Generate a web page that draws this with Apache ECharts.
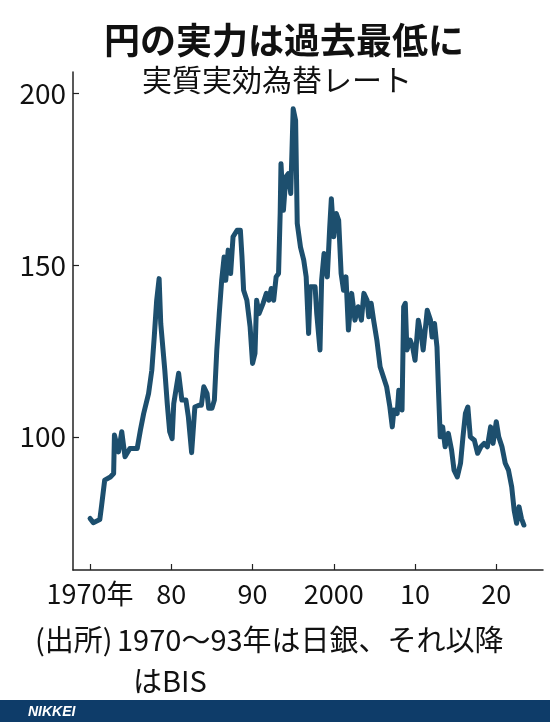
<!DOCTYPE html>
<html>
<head>
<meta charset="utf-8">
<script src="https://cdn.jsdelivr.net/npm/echarts@6/dist/echarts.min.js"></script>
<style>
  html, body { margin: 0; padding: 0; background: #fff; }
  #chart { width: 550px; height: 722px; }
</style>
</head>
<body>
<div id="chart"></div>
<script>
const years = [
  1970.0, 1970.4, 1971.2, 1971.4, 1971.8, 1972.5, 1972.9, 1973.0, 1973.5, 1973.9,
  1974.3, 1974.9, 1975.8, 1976.2, 1976.6, 1977.2, 1977.6, 1977.9, 1978.2, 1978.5,
  1978.7, 1979.2, 1979.5, 1979.8, 1980.1, 1980.3, 1980.9, 1981.3, 1981.8, 1982.1,
  1982.5, 1982.9, 1983.4, 1983.7, 1984.0, 1984.4, 1984.6, 1985.0, 1985.3, 1985.6,
  1985.9, 1986.2, 1986.5, 1986.7, 1987.0, 1987.3, 1987.6, 1988.1, 1988.5, 1988.7,
  1988.9, 1989.3, 1989.7, 1990.0, 1990.3, 1990.5, 1990.8, 1991.3, 1991.7, 1992.0,
  1992.3, 1992.6, 1992.9, 1993.2, 1993.4, 1993.5, 1993.8, 1994.1, 1994.4, 1994.7,
  1995.0, 1995.3, 1995.5, 1995.9, 1996.3, 1996.6, 1996.9, 1997.1, 1997.7, 1997.9,
  1998.3, 1998.5, 1998.8, 1999.2, 1999.5, 1999.7, 2000.0, 2000.3, 2000.6, 2000.9,
  2001.2, 2001.5, 2001.8, 2002.2, 2002.6, 2003.0, 2003.4, 2003.7, 2004.1, 2004.3,
  2004.6, 2004.9, 2005.3, 2005.7, 2006.1, 2006.5, 2006.9, 2007.2, 2007.4, 2007.8,
  2008.0, 2008.4, 2008.6, 2008.8, 2009.0, 2009.4, 2009.7, 2010.0, 2010.4, 2010.8,
  2011.0, 2011.5, 2011.9, 2012.1, 2012.4, 2012.7, 2012.9, 2013.1, 2013.4, 2013.7,
  2014.1, 2014.5, 2014.8, 2015.2, 2015.6, 2015.9, 2016.2, 2016.5, 2016.8, 2017.3,
  2017.7, 2018.1, 2018.5, 2018.9, 2019.3, 2019.6, 2020.0, 2020.3, 2020.7, 2021.1,
  2021.5, 2021.9, 2022.2, 2022.5, 2022.8, 2023.1, 2023.4
];
const rate = [
  76.2, 75.0, 75.9, 79.6, 87.4, 88.3, 89.3, 100.5, 95.6, 101.5,
  94.2, 96.6, 96.6, 102.0, 106.8, 112.6, 119.4, 129.1, 139.8, 146.1,
  133.0, 119.4, 109.7, 101.5, 99.5, 109.7, 118.5, 110.7, 110.7, 105.8,
  95.4, 108.7, 109.2, 109.2, 114.6, 112.6, 108.3, 108.3, 110.7, 125.3,
  135.9, 145.6, 152.4, 145.6, 154.4, 147.6, 158.3, 160.2, 160.2, 152.4,
  142.7, 139.8, 132.0, 121.4, 124.3, 139.8, 135.9, 138.9, 141.8, 139.8,
  143.2, 139.8, 146.6, 147.6, 165.1, 179.6, 166.0, 175.7, 176.7, 170.9,
  195.6, 192.2, 162.2, 155.3, 151.5, 146.6, 130.1, 143.7, 143.7, 135.9,
  125.3, 145.6, 153.4, 146.6, 161.2, 169.4, 158.3, 165.1, 163.1, 147.6,
  142.7, 146.6, 131.1, 141.8, 134.0, 137.9, 134.0, 141.8, 139.8, 135.0,
  138.9, 134.0, 128.2, 120.4, 117.5, 114.6, 108.7, 102.9, 107.8, 106.8,
  113.6, 107.8, 137.9, 138.9, 125.3, 128.2, 126.2, 122.3, 134.0, 129.1,
  125.3, 136.9, 134.0, 129.1, 133.0, 126.2, 112.6, 100.0, 102.9, 97.1,
  101.0, 96.1, 90.3, 88.3, 92.3, 100.0, 106.8, 108.7, 100.0, 99.0,
  95.2, 97.1, 98.1, 97.1, 102.9, 98.1, 104.4, 100.0, 97.1, 92.3,
  90.3, 85.4, 78.6, 74.8, 79.6, 76.2, 74.3
];
const xTicks = [1970, 1980, 1990, 2000, 2010, 2020];
const xTickLabels = ['1970年', '80', '90', '2000', '10', '20'];
const yTicks = [100, 150, 200];

const numFont = '"Liberation Sans Narrow", "Noto Sans CJK JP", sans-serif';
const jpFont = '"Noto Sans CJK JP", sans-serif';

var chart = echarts.init(document.getElementById('chart'));

let option = {
  backgroundColor: '#fff',
  animation: false,
  grid: { left: 73, right: 7, top: 72, bottom: 152 },
  xAxis: {
    type: 'value',
    min: 1967.9,
    max: 2025.75,
    splitLine: { show: false },
    axisLine: { lineStyle: { color: '#222', width: 1.5 } },
    axisTick: {
      inside: true,
      length: 6,
      customValues: xTicks,
      lineStyle: { color: '#222', width: 1.2 }
    },
    axisLabel: {
      customValues: xTicks,
      formatter: (v) => xTickLabels[xTicks.indexOf(v)],
      fontFamily: numFont,
      fontSize: 27,
      color: '#111',
      margin: 10
    }
  },
  yAxis: {
    type: 'value',
    min: 61.2,
    max: 206.3,
    splitLine: { show: false },
    axisLine: { show: true, lineStyle: { color: '#222', width: 1.5 } },
    axisTick: {
      inside: true,
      length: 6,
      customValues: yTicks,
      lineStyle: { color: '#222', width: 1.2 }
    },
    axisLabel: {
      customValues: yTicks,
      fontFamily: numFont,
      fontSize: 28,
      color: '#111',
      margin: 7
    }
  },
  series: [
    {
      type: 'line',
      data: years.map((y, i) => [y, rate[i]]),
      showSymbol: false,
      lineStyle: { color: '#1d4f6e', width: 5, join: 'round', cap: 'round' }
    }
  ],
  graphic: [
    {
      type: 'text',
      x: 284, y: 40,
      style: {
        text: '円の実力は過去最低に',
        font: 'bold 36px ' + jpFont,
        fill: '#111',
        textAlign: 'center',
        textVerticalAlign: 'middle'
      }
    },
    {
      type: 'text',
      x: 277, y: 80,
      style: {
        text: '実質実効為替レート',
        font: '30px ' + jpFont,
        fill: '#111',
        textAlign: 'center',
        textVerticalAlign: 'middle'
      }
    },
    {
      type: 'text',
      x: 35, y: 640,
      style: {
        text: '(出所)',
        font: '29px ' + jpFont,
        fill: '#111',
        textVerticalAlign: 'middle'
      }
    },
    {
      type: 'text',
      x: 117, y: 640,
      style: {
        text: '1970～93年は日銀、それ以降',
        font: '29px ' + jpFont,
        fill: '#111',
        textVerticalAlign: 'middle'
      }
    },
    {
      type: 'text',
      x: 133, y: 681,
      style: {
        text: 'はBIS',
        font: '29px ' + jpFont,
        fill: '#111',
        textVerticalAlign: 'middle'
      }
    },
    {
      type: 'rect',
      shape: { x: 0, y: 700, width: 550, height: 22 },
      style: { fill: '#0e3c69' }
    },
    {
      type: 'text',
      x: 28, y: 712,
      style: {
        text: 'NIKKEI',
        font: 'italic bold 14px "Liberation Sans", sans-serif',
        fill: '#fff',
        textVerticalAlign: 'middle'
      }
    }
  ]
};

option && chart.setOption(option);
</script>
</body>
</html>
